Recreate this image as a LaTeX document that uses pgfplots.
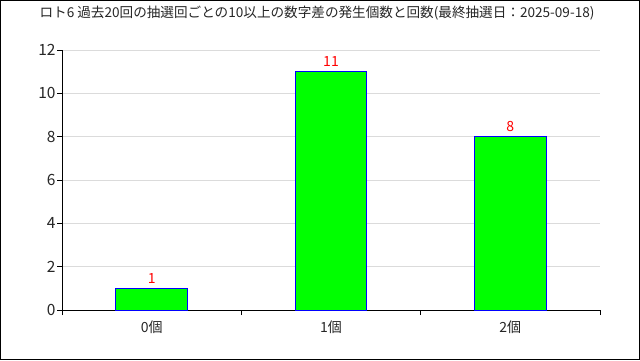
\documentclass[border=0pt]{standalone}
\usepackage{pgfplots}
\pgfplotsset{compat=1.18}
\usepackage{fontspec}
\setmainfont{Noto Sans CJK JP}
\begin{document}
\begin{tikzpicture}[x=1pt,y=1pt]
\useasboundingbox (0,0) rectangle (640,360);
\fill[white] (0,0) rectangle (640,360);
\draw[black, line width=1pt] (0.5,0.5) rectangle (639.5,359.5);
\node[font=\fontsize{13.6}{15}\selectfont, text=black!85, inner sep=0pt] at (317,347) {ロト6 過去20回の抽選回ごとの10以上の数字差の発生個数と回数(最終抽選日：2025-09-18)};
\begin{axis}[at={(62pt,50pt)}, anchor=south west, scale only axis,
  width=538pt, height=260pt,
  /pgf/number format/assume math mode=true,
  xmin=-0.5, xmax=2.5, ymin=0, ymax=12,
  axis x line*=bottom, axis y line*=left,
  axis line style={black, line width=0.9pt, -},
  ytick={0,2,...,12},
  ymajorgrids, grid style={black!14, line width=0.8pt},
  xtick={-0.5,0.5,1.5,2.5},
  xticklabels={0個,1個,2個},
  x tick label as interval,
  tick align=inside,
  major tick length=5pt,
  tick style={black, line width=0.9pt},
  ytick style={xshift=-5pt},
  yticklabel style={xshift=-3pt, font=\fontsize{15.5}{17}\selectfont, text=black!85},
  xticklabel style={font=\fontsize{14}{16}\selectfont, text=black!85, yshift=-2pt},
  ybar, bar width=0.4,
  nodes near coords={\pgfmathprintnumber[assume math mode=true]{\pgfplotspointmeta}},
  every node near coord/.append style={text=red, font=\fontsize{14}{16}\selectfont, yshift=1.5pt},
]
\addplot[fill={rgb,255:red,0;green,255;blue,0}, draw={rgb,255:red,0;green,0;blue,255}, line width=0.9pt]
  coordinates {(0,1) (1,11) (2,8)};
\end{axis}
\end{tikzpicture}
\end{document}
